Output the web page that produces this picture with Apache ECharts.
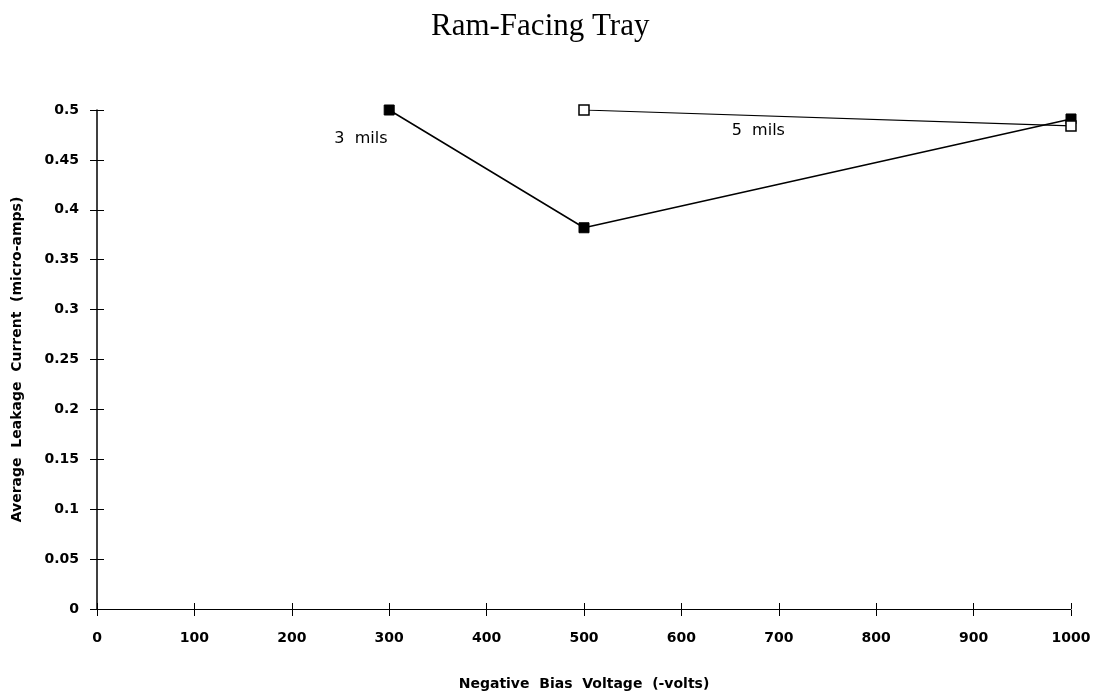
<!DOCTYPE html>
<html><head><meta charset="utf-8">
<script src="https://cdn.jsdelivr.net/npm/echarts@6/dist/echarts.min.js"></script>
<style>html,body{margin:0;padding:0;background:#fff}#c{width:1099px;height:696px}</style>
</head><body><div id="c"></div>
<script>
const titleText = 'Ram-Facing Tray';
const xName = 'Negative  Bias  Voltage  (-volts)';
const yName = 'Average  Leakage  Current  (micro-amps)';
const mils3X = [300, 500, 1000];
const mils3Y = [0.5, 0.382, 0.491];
const mils5X = [500, 1000];
const mils5Y = [0.5, 0.484];
const seriesNames = ['3  mils', '5  mils'];
const noteCoords = [[271, 0.471], [679, 0.479]];

const G = { left: 97, right: 28, top: 110, bottom: 86, w: 1099, h: 696 };
const chart = echarts.init(document.getElementById('c'));
const fontTick = { fontFamily: 'DejaVu Sans', fontWeight: 'bold', fontSize: 14, color: '#000' };
const noteFont = { fontFamily: 'DejaVu Sans', fontWeight: 'normal', fontSize: 16, color: '#000' };
const axisBase = { min: 0, splitLine: { show: false } };
const hiddenLine = { show: true, onZero: false, lineStyle: { color: 'rgba(0,0,0,0)' } };
const plotW = G.w - G.left - G.right, plotH = G.h - G.top - G.bottom;
chart.setOption({
  animation: false,
  backgroundColor: '#fff',
  title: { text: titleText, left: 426, top: 6,
    textStyle: { fontFamily: 'Liberation Serif', fontWeight: 'normal', fontSize: 31, color: '#000' } },
  grid: { left: G.left, right: G.right, top: G.top, bottom: G.bottom },
  xAxis: [
    Object.assign({}, axisBase, { type: 'value', max: 1000, interval: 100, position: 'bottom',
      name: xName, nameLocation: 'middle', nameGap: 68,
      nameTextStyle: Object.assign({}, fontTick, { fontSize: 14 }),
      axisLine: { show: true, onZero: false, lineStyle: { color: '#000', width: 1 } },
      axisTick: { show: true, inside: true, length: 6, lineStyle: { color: '#000' } },
      axisLabel: Object.assign({ margin: 22, formatter: v => String(v) }, fontTick) }),
    Object.assign({}, axisBase, { type: 'value', max: 1000, interval: 100, position: 'top', offset: -plotH,
      axisLine: hiddenLine, axisLabel: { show: false },
      axisTick: { show: true, inside: true, length: 6, lineStyle: { color: '#000' } } })
  ],
  yAxis: [
    Object.assign({}, axisBase, { type: 'value', max: 0.5, interval: 0.05, position: 'left',
      name: yName, nameLocation: 'middle', nameGap: 73,
      nameTextStyle: Object.assign({}, fontTick, { fontSize: 14 }),
      axisLine: { show: true, onZero: false, lineStyle: { color: '#000', width: 1.5 } },
      axisTick: { show: true, inside: true, length: 7, lineStyle: { color: '#000' } },
      axisLabel: Object.assign({ margin: 18, formatter: v => String(+v.toFixed(2)) }, fontTick) }),
    Object.assign({}, axisBase, { type: 'value', max: 0.5, interval: 0.05, position: 'right', offset: -plotW,
      axisLine: hiddenLine, axisLabel: { show: false },
      axisTick: { show: true, inside: true, length: 7, lineStyle: { color: '#000' } } })
  ],
  series: [
    { name: seriesNames[0], type: 'line', xAxisIndex: 0, yAxisIndex: 0,
      data: mils3X.map((x, i) => [x, mils3Y[i]]),
      symbol: 'rect', symbolSize: 10,
      itemStyle: { color: '#000', borderColor: '#000', borderWidth: 1 },
      lineStyle: { color: '#000', width: 1.5 },
      markPoint: { symbol: 'circle', symbolSize: 2, itemStyle: { color: 'rgba(0,0,0,0)' },
        data: [{ coord: noteCoords[0], value: seriesNames[0] }],
        label: Object.assign({ show: true, position: 'inside', formatter: seriesNames[0] }, noteFont) } },
    { name: seriesNames[1], type: 'line', xAxisIndex: 0, yAxisIndex: 0,
      data: mils5X.map((x, i) => [x, mils5Y[i]]),
      symbol: 'rect', symbolSize: 10,
      itemStyle: { color: '#fff', borderColor: '#000', borderWidth: 1.5 },
      lineStyle: { color: '#000', width: 1.2 },
      markPoint: { symbol: 'circle', symbolSize: 2, itemStyle: { color: 'rgba(0,0,0,0)' },
        data: [{ coord: noteCoords[1], value: seriesNames[1] }],
        label: Object.assign({ show: true, position: 'inside', formatter: seriesNames[1] }, noteFont) } }
  ]
});
</script></body></html>
